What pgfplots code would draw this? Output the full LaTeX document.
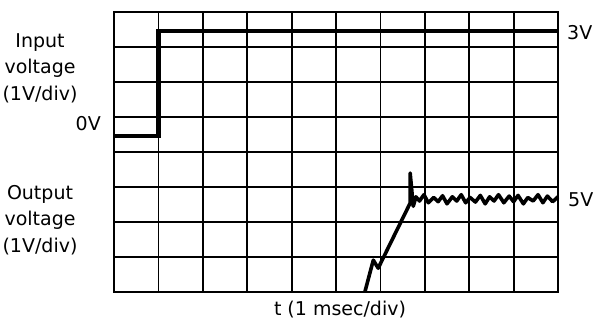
\documentclass[border=0pt]{standalone}
\usepackage{pgfplots}
\pgfplotsset{compat=1.18}
\usepackage{fontspec}
\setmainfont{DejaVu Sans}
\begin{document}
\fontsize{19bp}{26.5bp}\selectfont
\begin{tikzpicture}
\useasboundingbox (0,0) rectangle (610bp,322bp);
\begin{axis}[
    at={(114bp,30bp)}, anchor=south west,
    scale only axis, width=444bp, height=280bp,
    xmin=0, xmax=10, ymin=0, ymax=8,
    xtick={0,...,10}, ytick={0,...,8},
    xticklabels={}, yticklabels={},
    major tick length=0pt,
    grid=major,
    grid style={black, line width=1.8bp},
    axis line style={black, line width=2.2bp},
    clip=false
  ]
  % input step
  \addplot[black, line width=4.2bp, line join=miter] coordinates {
    (0,4.45) (1,4.45) (1,7.45) (10,7.45)
  };
  % output response
  \addplot[black, line width=3.6bp, line join=round] coordinates {
    (5.65,0.00) (5.84,0.91) (5.95,0.68) (6.67,2.54) (6.67,3.40)
    (6.74,2.45) (6.80,2.72) (6.88,2.60) (6.98,2.78) (7.08,2.55)
    (7.20,2.70) (7.30,2.58) (7.40,2.75) (7.50,2.52) (7.62,2.72)
    (7.72,2.60) (7.82,2.78) (7.92,2.55) (8.02,2.70) (8.14,2.57)
    (8.25,2.76) (8.36,2.52) (8.46,2.72) (8.56,2.60) (8.66,2.78)
    (8.78,2.55) (8.90,2.74) (9.00,2.58) (9.10,2.76) (9.22,2.52)
    (9.32,2.70) (9.44,2.60) (9.55,2.78) (9.66,2.55) (9.76,2.74)
    (9.88,2.58) (10.00,2.72)
  };
\end{axis}
\node[align=center] at (40bp,254bp) {Input\\voltage\\(1V/div)};
\node[anchor=east, inner sep=0pt] at (101bp,198bp) {0V};
\node[align=center] at (40bp,102bp) {Output\\voltage\\(1V/div)};
\node[anchor=west, inner sep=0pt] at (567bp,289bp) {3V};
\node[anchor=west, inner sep=0pt] at (568bp,122bp) {5V};
\node at (340bp,12bp) {t (1 msec/div)};
\end{tikzpicture}
\end{document}
